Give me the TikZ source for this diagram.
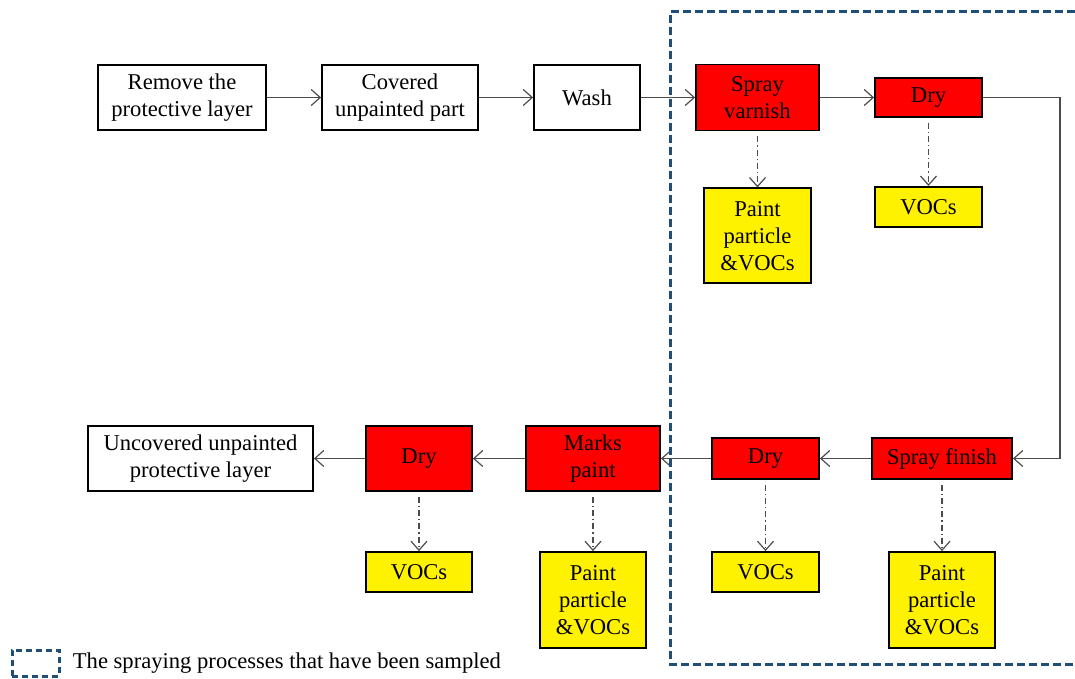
\documentclass[tikz,border=0pt]{standalone}
\usepackage{fontspec}
\setmainfont{Liberation Serif}
\usetikzlibrary{positioning, arrows.meta}

\definecolor{frameblue}{RGB}{31,78,121}

\begin{document}
\begin{tikzpicture}[
        x=0.5pt,
        y=-0.5pt,
        node distance=27.1pt,
        font=\fontsize{11.3}{13.5}\selectfont,
        process/.style={
            rectangle,
            draw,
            line width=0.9pt,
            align=center,
            inner sep=0pt,
            minimum height=32.5pt
        },
        spray/.style={
            process,
            fill=red
        },
        emission/.style={
            process,
            fill=yellow,
            minimum width=53.5pt
        },
        arrow/.style={-{Straight Barb[length=4.5pt,width=8pt]}, draw=black!70, line width=0.6pt},
        release/.style={arrow, dash pattern=on 3pt off 1.5pt on 0.6pt off 1.5pt, shorten <=2.5pt},
        sampled/.style={draw=frameblue, line width=1.5pt, dash pattern=on 4pt off 2pt}
        ]
        
        \useasboundingbox (0,0) rectangle (1075,679);
        
        % Preparation chain
        \node[process, minimum width=84pt] (remove) at (182,97.5) {Remove the\\protective layer};
        \node[process, minimum width=78pt, right=of remove] (covered) {Covered\\unpainted part};
        \node[process, minimum width=53pt, right=of covered] (wash) {Wash};
        \node[spray, minimum width=61.5pt, minimum height=33pt, right=of wash] (varnish) {Spray\\varnish};
        \node[spray, minimum width=53.5pt, minimum height=19.5pt, right=of varnish] (dryvarnish) {Dry};
        
        % Emissions of the upper row
        \node[emission, minimum height=47.5pt, below=28pt of varnish] (varnishout) {Paint\\particle\\\&VOCs};
        \node[emission, minimum height=20pt, below=34pt of dryvarnish] (dryvarnishout) {VOCs};
        
        % Finishing chain
        \node[spray, minimum width=70pt, minimum height=20.5pt] (finish) at (942,458.5) {Spray finish};
        \node[spray, minimum width=53.5pt, minimum height=20.5pt, left=25.6pt of finish] (dryfinish) {Dry};
        \node[spray, minimum width=67pt, left=25.1pt of dryfinish] (marks) {Marks\\paint};
        \node[spray, minimum width=53pt, left=26.1pt of marks] (drymarks) {Dry};
        \node[process, minimum width=112.5pt, left=25.6pt of drymarks] (uncovered) {Uncovered unpainted\\protective layer};
        
        % Emissions of the lower row
        \node[emission, minimum width=53pt, minimum height=48pt, below=35.6pt of finish] (finishout) {Paint\\particle\\\&VOCs};
        \node[emission, minimum height=20pt, below=35.6pt of dryfinish] (dryfinishout) {VOCs};
        \node[emission, minimum width=53pt, minimum height=48pt, below=29.6pt of marks] (marksout) {Paint\\particle\\\&VOCs};
        \node[emission, minimum width=53pt, minimum height=20pt, below=29.6pt of drymarks] (drymarksout) {VOCs};
        
        % Main flow
        \draw[arrow] (remove) -- (covered);
        \draw[arrow] (covered) -- (wash);
        \draw[arrow] (wash) -- (varnish);
        \draw[arrow] (varnish) -- (dryvarnish);
        \draw[arrow] (dryvarnish.east) -- ++(77,0) |- (finish.east);
        \draw[arrow] (finish) -- (dryfinish);
        \draw[arrow] (dryfinish) -- (marks);
        \draw[arrow] (marks) -- (drymarks);
        \draw[arrow] (drymarks) -- (uncovered);
        
        % Releases
        \draw[release] (varnish) -- (varnishout);
        \draw[release] (dryvarnish) -- (dryvarnishout);
        \draw[release] (finish) -- (finishout);
        \draw[release] (dryfinish) -- (dryfinishout);
        \draw[release] (marks) -- (marksout);
        \draw[release] (drymarks) -- (drymarksout);
        
        % Sampled area
        \draw[sampled] (1075,12) -- (670,12) -- (670,664) -- (1075,664);
        
        % Legend
        \node[sampled, dash pattern=on 3pt off 2pt, minimum width=23.5pt, minimum height=13pt, inner sep=0pt] (legendbox) at (35.5,663) {};
        \node[right=6pt of legendbox, inner sep=0pt] (legendtext) {The spraying processes that have been sampled};
        
    \end{tikzpicture}
\end{document}
